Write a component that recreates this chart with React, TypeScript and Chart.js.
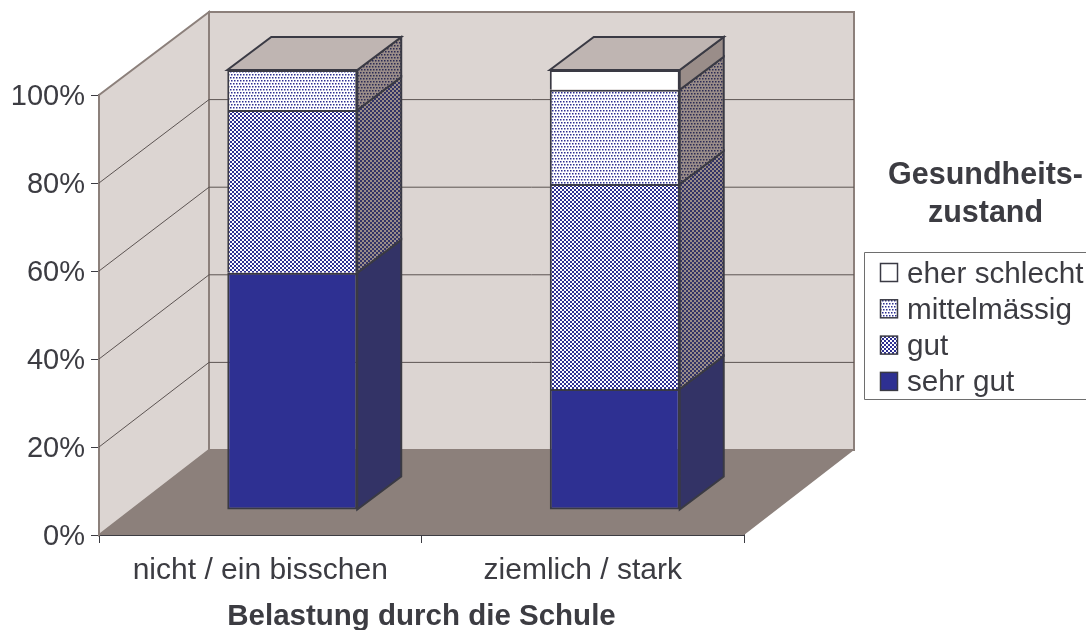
import React, { useEffect, useRef } from "react";
import { Chart, registerables } from "chart.js";

Chart.register(...registerables);

const categories = ["nicht / ein bisschen", "ziemlich / stark"];
const sehrGut = [53.9, 27.5];
const gut = [37.0, 46.6];
const mittelmaessig = [9.1, 21.4];
const eherSchlecht = [0, 4.5];
const seriesLabels = ["sehr gut", "gut", "mittelmässig", "eher schlecht"];
const yTicks = [0, 20, 40, 60, 80, 100];
const legendTitle = ["Gesundheits-", "zustand"];
const xTitle = "Belastung durch die Schule";

const FONT = '"Liberation Sans", Arial, sans-serif';
const TEXT = "#3c3c42";
const BLUE = "#2e3092";
const SIDE_BLUE = "#333366";
const OUTLINE = "#3a3a44";
const WALL = "#dcd5d2";
const FLOOR = "#8c807b";
const TOP_FACE = "#bfb5b2";
const SIDE_BG = "#9a8d89";
const WALL_LINE = "#8c807b";
const GRID = "#5c5452";

const WALL_DX = 110;
const WALL_DY_BOTTOM = -85;
const WALL_DY_TOP = -83;
const BAR_OFF_X = 32;
const BAR_OFF_Y = -25;
const BAR_DX = 44;
const BAR_DY = -33;

function tile(size: number, bg: string, fg: string, cells: number[][], cell: number) {
  const c = document.createElement("canvas");
  c.width = size;
  c.height = size;
  const g = c.getContext("2d")!;
  g.fillStyle = bg;
  g.fillRect(0, 0, size, size);
  g.fillStyle = fg;
  cells.forEach(([x, y]) => g.fillRect(x, y, cell, cell));
  return g.createPattern(c, "repeat")!;
}
const checker = (bg: string, fg: string) => tile(4, bg, fg, [[0, 0], [2, 2]], 2);
const dots = (bg: string, fg: string) => tile(6, bg, fg, [[0, 0], [3, 0], [1, 3], [4, 3]], 1.5);

const wallsPlugin = {
  id: "walls",
  beforeDatasetsDraw(chart: any) {
    const { ctx, chartArea: a, scales } = chart;
    const y = scales.y;
    const poly = (pts: number[][], fill: string | null, stroke: string | null, w = 1) => {
      ctx.beginPath();
      pts.forEach(([px, py], i) => (i ? ctx.lineTo(px, py) : ctx.moveTo(px, py)));
      ctx.closePath();
      if (fill) { ctx.fillStyle = fill; ctx.fill(); }
      if (stroke) { ctx.strokeStyle = stroke; ctx.lineWidth = w; ctx.stroke(); }
    };
    const dyAt = (t: number) => WALL_DY_BOTTOM + ((WALL_DY_TOP - WALL_DY_BOTTOM) * t) / 100;
    const bl = a.left + WALL_DX, br = a.right + WALL_DX;
    const bt = a.top + WALL_DY_TOP, bb = a.bottom + WALL_DY_BOTTOM;
    ctx.save();
    poly([[bl, bt], [br, bt], [br, bb], [bl, bb]], WALL, WALL_LINE, 2);
    poly([[a.left, a.top], [bl, bt], [bl, bb], [a.left, a.bottom]], WALL, WALL_LINE, 2);
    yTicks.forEach((t) => {
      if (t === 0 || t === 100) return;
      const py = y.getPixelForValue(t);
      ctx.beginPath();
      ctx.moveTo(a.left, py);
      ctx.lineTo(bl, py + dyAt(t));
      ctx.lineTo(br, py + dyAt(t));
      ctx.strokeStyle = GRID;
      ctx.lineWidth = 1;
      ctx.stroke();
    });
    poly([[a.left, a.bottom], [bl, bb], [br, bb], [a.right, a.bottom]], FLOOR, null);
    ctx.restore();
    ctx.save();
    ctx.translate(BAR_OFF_X, BAR_OFF_Y);
  },
  afterDatasetsDraw(chart: any) {
    const { ctx } = chart;
    ctx.restore();
    ctx.save();
    ctx.lineJoin = "miter";
    const n = chart.data.labels.length;
    for (let i = 0; i < n; i++) {
      let topEl: any = null;
      chart.data.datasets.forEach((ds: any, d: number) => {
        const el = chart.getDatasetMeta(d).data[i];
        const props = el.getProps(["x", "y", "base", "width"], true);
        if (ds.data[i] <= 0) return;
        const r = props.x + props.width / 2 + BAR_OFF_X;
        const t = props.y + BAR_OFF_Y;
        const b = props.base + BAR_OFF_Y;
        ctx.beginPath();
        ctx.moveTo(r, t);
        ctx.lineTo(r + BAR_DX, t + BAR_DY);
        ctx.lineTo(r + BAR_DX, b + BAR_DY);
        ctx.lineTo(r, b);
        ctx.closePath();
        ctx.fillStyle = ds.sideColor;
        ctx.fill();
        ctx.strokeStyle = OUTLINE;
        ctx.lineWidth = 2;
        ctx.stroke();
        topEl = props;
      });
      if (topEl) {
        const l = topEl.x - topEl.width / 2 + BAR_OFF_X;
        const r = topEl.x + topEl.width / 2 + BAR_OFF_X;
        const t = topEl.y + BAR_OFF_Y;
        ctx.beginPath();
        ctx.moveTo(l, t);
        ctx.lineTo(l + BAR_DX, t + BAR_DY);
        ctx.lineTo(r + BAR_DX, t + BAR_DY);
        ctx.lineTo(r, t);
        ctx.closePath();
        ctx.fillStyle = TOP_FACE;
        ctx.fill();
        ctx.strokeStyle = OUTLINE;
        ctx.lineWidth = 2;
        ctx.stroke();
      }
    }
    ctx.restore();
  },
  afterDraw(chart: any) {
    const { ctx } = chart;
    ctx.save();
    ctx.font = `bold 30.5px ${FONT}`;
    ctx.fillStyle = TEXT;
    ctx.textAlign = "center";
    ctx.textBaseline = "alphabetic";
    ctx.fillText(legendTitle[0], 985.5, 184);
    ctx.fillText(legendTitle[1], 985.5, 222);
    ctx.strokeStyle = "#6e6e6e";
    ctx.lineWidth = 1;
    ctx.beginPath();
    ctx.moveTo(1086, 252.5);
    ctx.lineTo(864.5, 252.5);
    ctx.lineTo(864.5, 399.5);
    ctx.lineTo(1086, 399.5);
    ctx.stroke();
    ctx.textAlign = "left";
    ctx.font = `29.7px ${FONT}`;
    const order = [3, 2, 1, 0];
    order.forEach((d, i) => {
      const ds = chart.data.datasets[d];
      const top = 263.5 + i * 36.3;
      ctx.fillStyle = ds.backgroundColor;
      ctx.fillRect(880.5, top, 17, 18);
      ctx.strokeStyle = OUTLINE;
      ctx.lineWidth = 1.5;
      ctx.strokeRect(880.5, top, 17, 18);
      ctx.fillStyle = TEXT;
      ctx.fillText(ds.label, 907, top + 19);
    });
    ctx.restore();
  },
};

export default function App() {
  const ref = useRef<HTMLCanvasElement>(null);
  useEffect(() => {
    const faces = [BLUE, checker("#ffffff", BLUE), dots("#ffffff", BLUE), "#ffffff"];
    const sides = [SIDE_BLUE, checker(SIDE_BG, SIDE_BLUE), dots(SIDE_BG, "#2c2c55"), SIDE_BG];
    const values = [sehrGut, gut, mittelmaessig, eherSchlecht];
    const chart: any = new Chart(ref.current!, {
      type: "bar",
      data: {
        labels: categories,
        datasets: values.map((data, i) => ({
          label: seriesLabels[i],
          data,
          backgroundColor: faces[i] as any,
          sideColor: sides[i] as any,
          borderColor: OUTLINE,
          borderWidth: data.map((v) => (v > 0 ? 2 : 0)),
          borderSkipped: i === 0 ? false : "bottom",
          barPercentage: 0.403,
          categoryPercentage: 1,
          clip: false as any,
        })),
      },
      options: {
        responsive: false,
        animation: false,
        layout: { padding: { top: 95, right: 342, left: 0, bottom: 0 } },
        plugins: { legend: { display: false }, title: { display: false }, tooltip: { enabled: false } },
        scales: {
          x: {
            stacked: true,
            afterFit(s: any) { s.height = 95; },
            grid: { drawOnChartArea: false, drawTicks: true, tickLength: 8, color: "#3c3c42", lineWidth: 1 },
            border: { color: "#3c3c42", width: 2 },
            ticks: { color: TEXT, font: { family: FONT, size: 30 }, maxRotation: 0, padding: 10 },
            title: { display: true, text: xTitle, color: TEXT, font: { family: FONT, size: 29.5, weight: "bold" }, padding: { top: 9, bottom: -5 } },
          },
          y: {
            stacked: true,
            min: 0,
            max: 100,
            afterFit(s: any) {
              s.width = 99;
              if (!s.$shifted) {
                s.$shifted = true;
                const drawLabels = s.drawLabels;
                s.drawLabels = function (area: any) {
                  this.ctx.save();
                  this.ctx.translate(0, 1.5);
                  drawLabels.call(this, area);
                  this.ctx.restore();
                };
              }
            },
            afterBuildTicks(s: any) { s.ticks = yTicks.map((value) => ({ value })); },
            grid: { drawOnChartArea: false, drawTicks: true, tickLength: 8, color: "#3c3c42", lineWidth: 1 },
            border: { color: "#3c3c42", width: 2 },
            ticks: { color: TEXT, font: { family: FONT, size: 29 }, padding: 6, callback: (v: any) => `${v}%` },
          },
        },
      },
      plugins: [wallsPlugin],
    } as any);
    return () => chart.destroy();
  }, []);
  return (
    <div style={{ position: "absolute", left: 0, top: 0, width: 1086, height: 630, background: "#fff" }}>
      <canvas ref={ref} width={1086} height={630} style={{ display: "block" }} />
    </div>
  );
}
